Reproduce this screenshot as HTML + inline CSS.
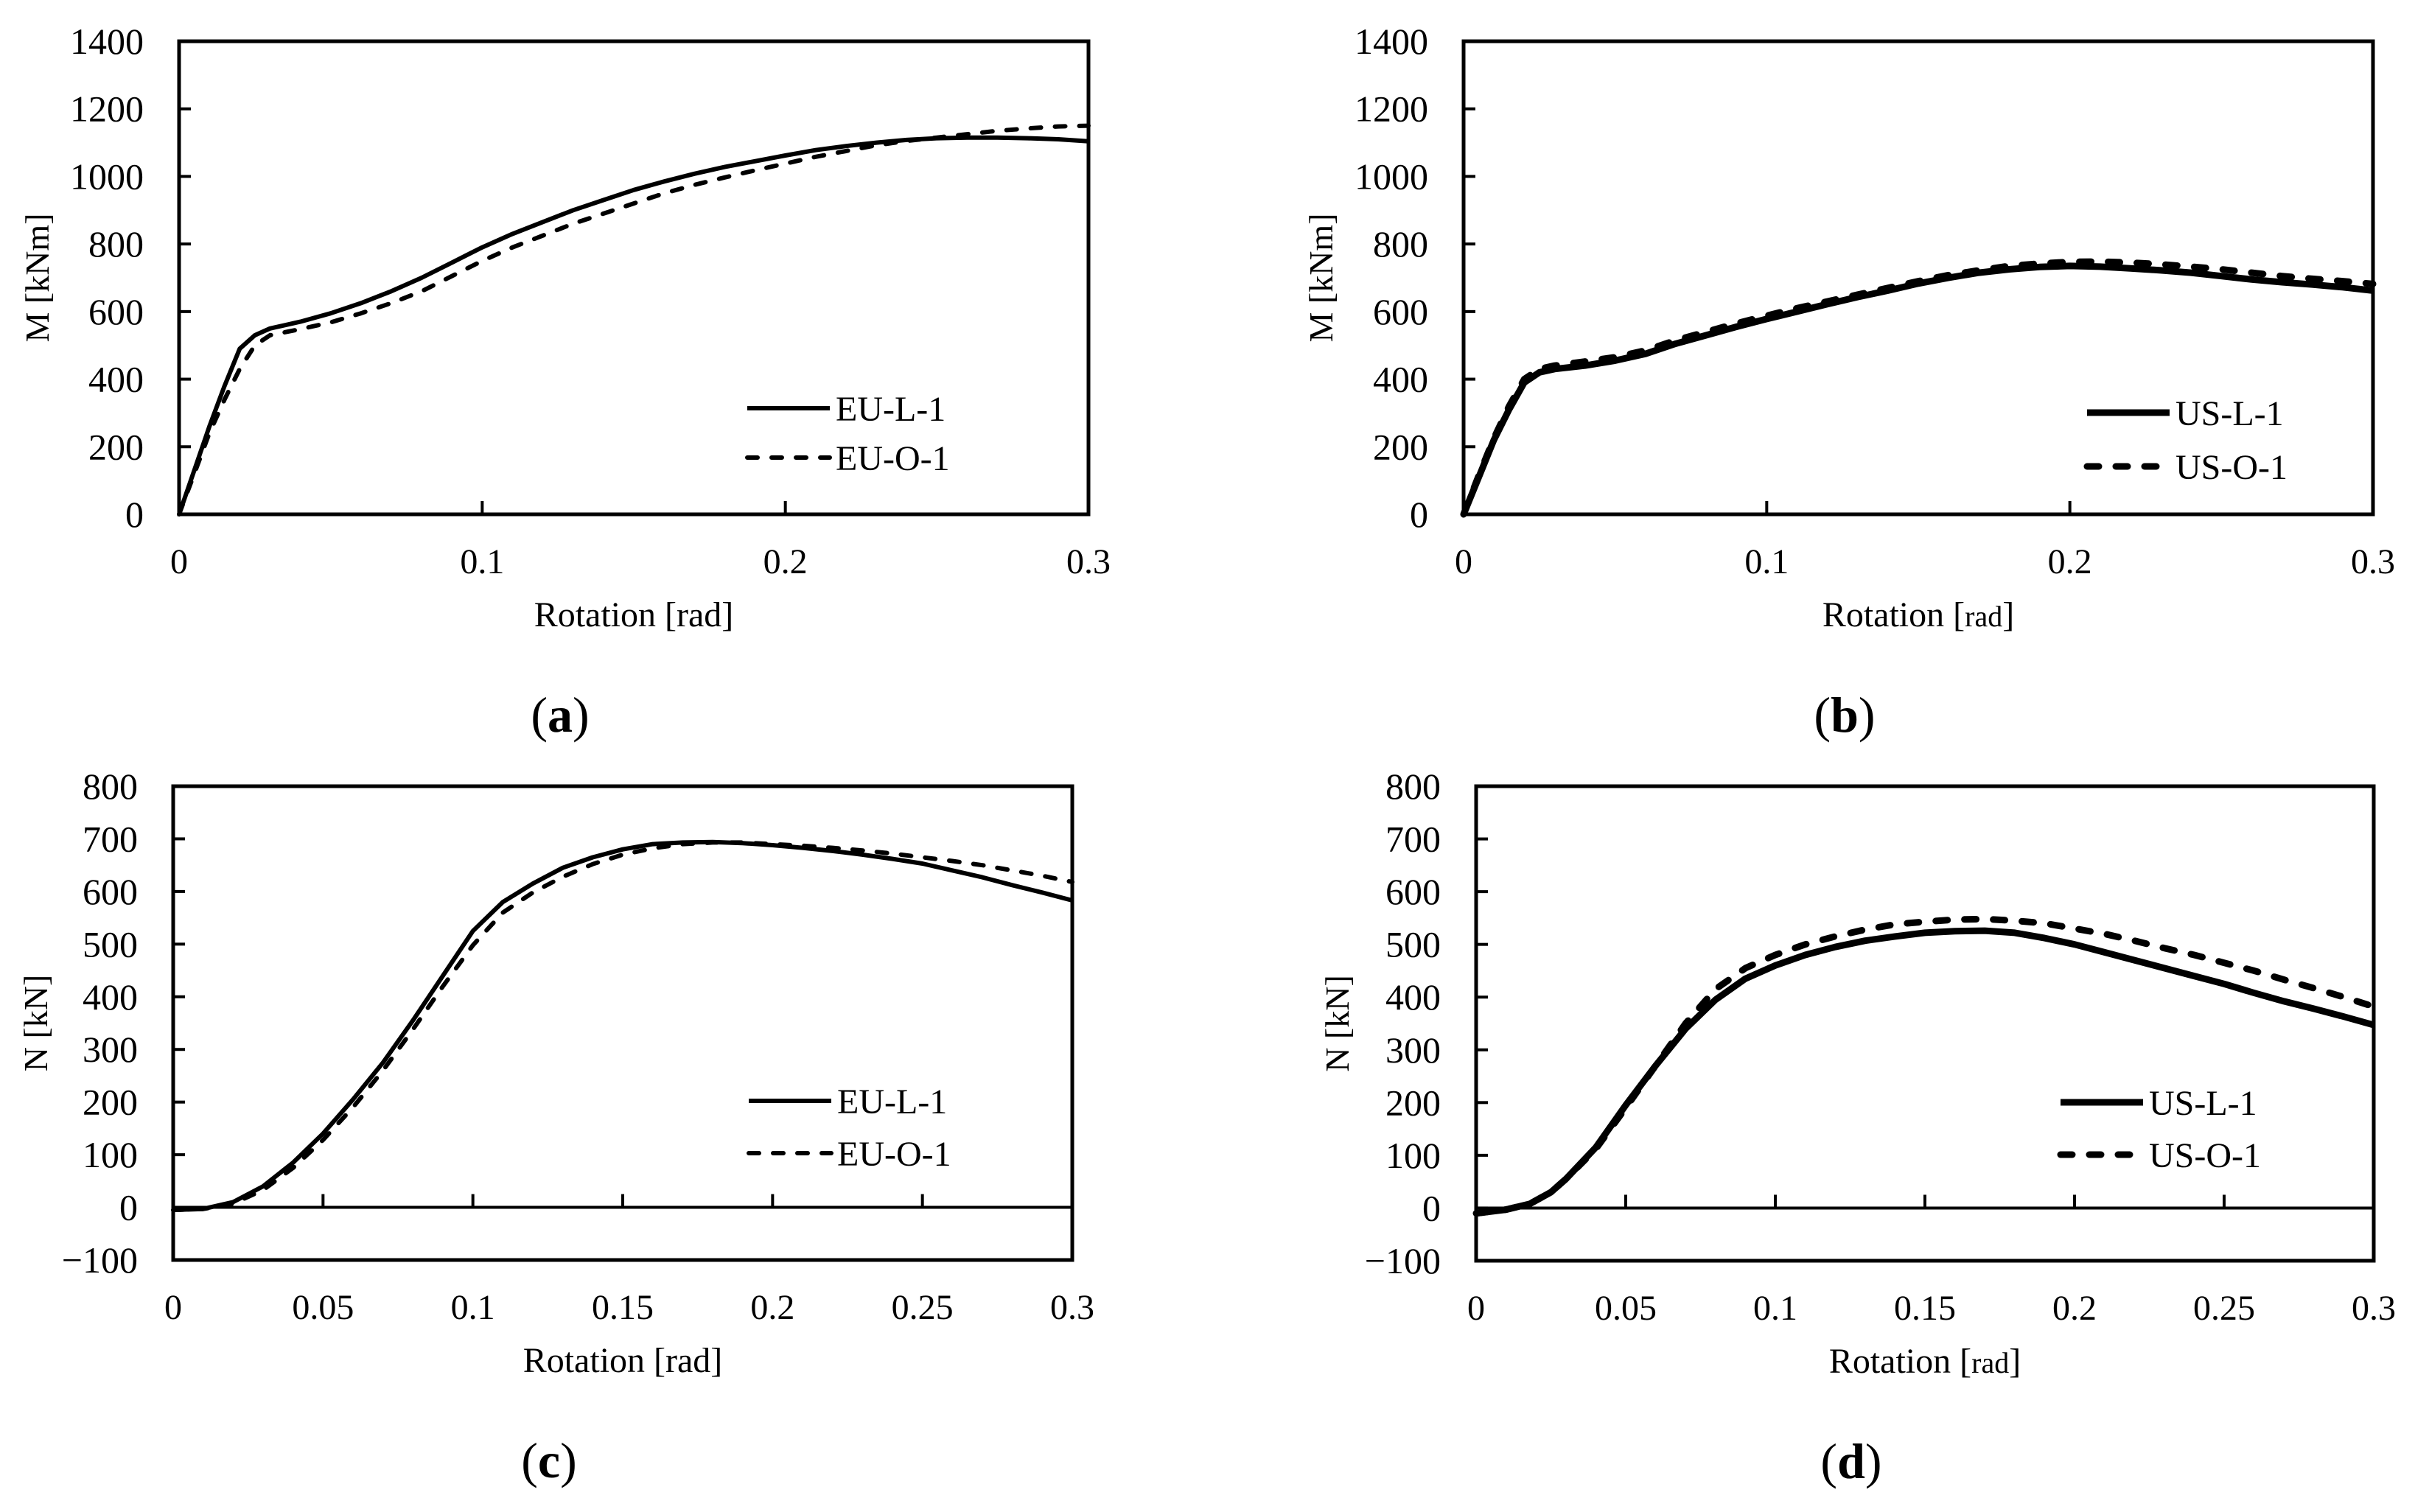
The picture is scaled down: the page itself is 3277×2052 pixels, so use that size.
<!DOCTYPE html>
<html><head><meta charset="utf-8"><style>
html,body{margin:0;padding:0;background:#fff;}
svg{display:block;font-family:"Liberation Serif",serif;}
</style></head><body>
<svg id="fig" width="3277" height="2052" viewBox="0 0 3277 2052" xmlns="http://www.w3.org/2000/svg"></svg>
<script>
const xA=[0,0.005,0.01,0.015,0.02,0.025,0.03,0.04,0.05,0.06,0.07,0.08,0.09,0.1,0.11,0.12,0.13,0.14,0.15,0.16,0.17,0.18,0.19,0.2,0.21,0.22,0.23,0.24,0.25,0.26,0.27,0.28,0.29,0.3];
const aL=[0,130,260,380,490,530,550,570,595,625,660,700,745,790,830,865,900,930,960,985,1008,1028,1045,1062,1078,1090,1100,1108,1113,1115,1115,1113,1110,1104];
const aO=[0,120,240,340,430,500,530,548,568,595,625,660,705,750,790,825,860,890,920,950,975,997,1018,1038,1058,1075,1092,1105,1115,1125,1135,1142,1148,1150];
const bL=[0,110,220,310,390,420,430,440,455,475,505,530,555,578,600,622,643,662,683,700,715,725,732,735,733,728,722,715,705,695,687,680,672,662];
const bO=[0,115,225,320,400,430,440,452,465,485,515,540,565,588,610,630,650,670,690,708,722,735,742,747,748,745,740,733,725,715,705,697,690,682];
const xC=[0,0.01,0.02,0.03,0.04,0.05,0.06,0.07,0.08,0.09,0.1,0.11,0.12,0.13,0.14,0.15,0.16,0.17,0.18,0.19,0.2,0.21,0.22,0.23,0.24,0.25,0.26,0.27,0.28,0.29,0.3];
const cL=[-5,-3,10,40,85,140,205,275,355,440,525,580,615,645,665,680,690,693,694,692,688,683,677,670,662,653,640,627,612,598,583];
const cO=[-5,-3,7,33,75,128,190,260,338,420,498,560,598,628,652,670,682,690,693,693,690,687,683,678,672,665,658,650,640,630,618];
const xD=[0,0.01,0.018,0.025,0.03,0.04,0.05,0.06,0.07,0.08,0.09,0.1,0.11,0.12,0.13,0.14,0.15,0.16,0.17,0.18,0.19,0.2,0.21,0.22,0.23,0.24,0.25,0.26,0.27,0.28,0.29,0.3];
const dL=[-10,-3,8,30,55,115,195,270,340,395,435,460,480,495,507,515,522,525,526,522,512,500,485,470,455,440,425,408,392,378,363,347];
const dO=[-10,-3,8,30,55,112,190,270,350,415,455,480,500,515,528,538,543,547,548,545,540,530,520,507,493,480,465,450,433,417,400,382];
const mTicks=[0,200,400,600,800,1000,1200,1400];
const nTicks=[-100,0,100,200,300,400,500,600,700,800];
const xTicksTop=["0","0.1","0.2","0.3"];
const xTicksBot=["0","0.05","0.1","0.15","0.2","0.25","0.3"];

const NS="http://www.w3.org/2000/svg";
const svg=document.getElementById('fig');
function mk(tag,attrs,parent){const e=document.createElementNS(NS,tag);for(const k in attrs)e.setAttribute(k,attrs[k]);(parent||svg).appendChild(e);return e;}

function panel(o){
  const g=mk('g',{});
  
  
  const sx=v=>o.L+(v-0)/(0.3)*(o.R-o.L);
  const sy=v=>o.B-(v-o.ymin)/(o.ymax-o.ymin)*(o.B-o.T);
  const dash=o.lw>7?'16,23':'14,19';
  const fr=mk('rect',{x:o.L,y:o.T,width:o.R-o.L,height:o.B-o.T,fill:'none',stroke:'#000','stroke-width':5},g);
  
  
  o.yt.forEach(v=>{
    const y=sy(v);
    if(v!==o.ymin&&v!==o.ymax){const t=mk('line',{x1:o.L,x2:o.L+16,y1:y,y2:y,stroke:'#000','stroke-width':4},g);
    }
    const tx=mk('text',{x:o.L-48,y:y+17,'text-anchor':'end','font-size':50},g);
    tx.textContent=v<0?'\u2212'+(-v):String(v);
    
    
  });
  const y0=sy(0);
  if(o.ymin<0){const z=mk('line',{x1:o.L,x2:o.R,y1:y0,y2:y0,stroke:'#000','stroke-width':4},g);
    }
  o.xt.forEach(s=>{
    const v=parseFloat(s),x=sx(v);
    if(v>0&&v<0.3){const t=mk('line',{x1:x,x2:x,y1:y0,y2:y0-18,stroke:'#000','stroke-width':4},g);
      }
    const tx=mk('text',{x:x,y:o.B+80,'text-anchor':'middle','font-size':48},g);
    tx.textContent=s;
    
    
  });
  o.series.forEach(s=>{
    const d=s.x.map((xv,i)=>(i?'L':'M')+sx(xv).toFixed(1)+','+sy(s.y[i]).toFixed(1)).join('');
    const p=mk('path',{d:d,fill:'none',stroke:'#000','stroke-width':o.lw,'stroke-linejoin':'round','stroke-linecap':s.dash?'round':'butt','stroke-dasharray':s.dash?dash:'none'},g);
    
    
  });
  o.series.forEach((s,i)=>{
    const ly=o.legY+i*o.legDy;
    const ln=mk('line',{x1:o.legX,x2:o.legX+112,y1:ly,y2:ly,stroke:'#000','stroke-width':o.lw,'stroke-linecap':s.dash?'round':'butt','stroke-dasharray':s.dash?dash:'none'},g);
    
    const t=mk('text',{x:o.legX+120,y:ly+17,'font-size':48},g);
    t.textContent=s.name;
    
  });
  const xt=mk('text',{x:(o.L+o.R)/2,y:o.B+152,'text-anchor':'middle','font-size':48},g);
  xt.innerHTML=o.radSmall?'Rotation [<tspan font-size="40">rad</tspan>]':'Rotation [rad]';
  
  const cy=(o.T+o.B)/2;
  const yt=mk('text',{x:o.yTitleX,y:cy,'text-anchor':'middle','font-size':46,transform:'rotate(-90 '+o.yTitleX+' '+cy+')'},g);
  yt.textContent=o.ytitle;
  
  const lab=mk('text',{x:(o.L+o.R)/2-100,y:o.B+295,'text-anchor':'middle','font-size':68},g);
  lab.innerHTML='(<tspan font-weight="bold">'+o.id+'</tspan>)';
  
}

panel({id:'a',L:243,R:1477,T:56,B:698,ymin:0,ymax:1400,yt:mTicks,xt:xTicksTop,lw:6,ytitle:'M [kNm]',yTitleX:66,
  legX:1014,legY:554,legDy:67,series:[{name:'EU-L-1',x:xA,y:aL},{name:'EU-O-1',x:xA,y:aO,dash:1}]});
panel({id:'b',L:1986,R:3220,T:56,B:698,ymin:0,ymax:1400,yt:mTicks,xt:xTicksTop,lw:9,ytitle:'M [kNm]',yTitleX:1808,radSmall:1,
  legX:2832,legY:560,legDy:73,series:[{name:'US-L-1',x:xA,y:bL},{name:'US-O-1',x:xA,y:bO,dash:1}]});
panel({id:'c',L:235,R:1455,T:1067,B:1710,ymin:-100,ymax:800,yt:nTicks,xt:xTicksBot,lw:6,ytitle:'N [kN]',yTitleX:64,
  legX:1016,legY:1494,legDy:71,series:[{name:'EU-L-1',x:xC,y:cL},{name:'EU-O-1',x:xC,y:cO,dash:1}]});
panel({id:'d',L:2003,R:3221,T:1067,B:1711,ymin:-100,ymax:800,yt:nTicks,xt:xTicksBot,lw:9,ytitle:'N [kN]',yTitleX:1830,radSmall:1,
  legX:2796,legY:1496,legDy:71,series:[{name:'US-L-1',x:xD,y:dL},{name:'US-O-1',x:xD,y:dO,dash:1}]});
</script>
</body></html>
